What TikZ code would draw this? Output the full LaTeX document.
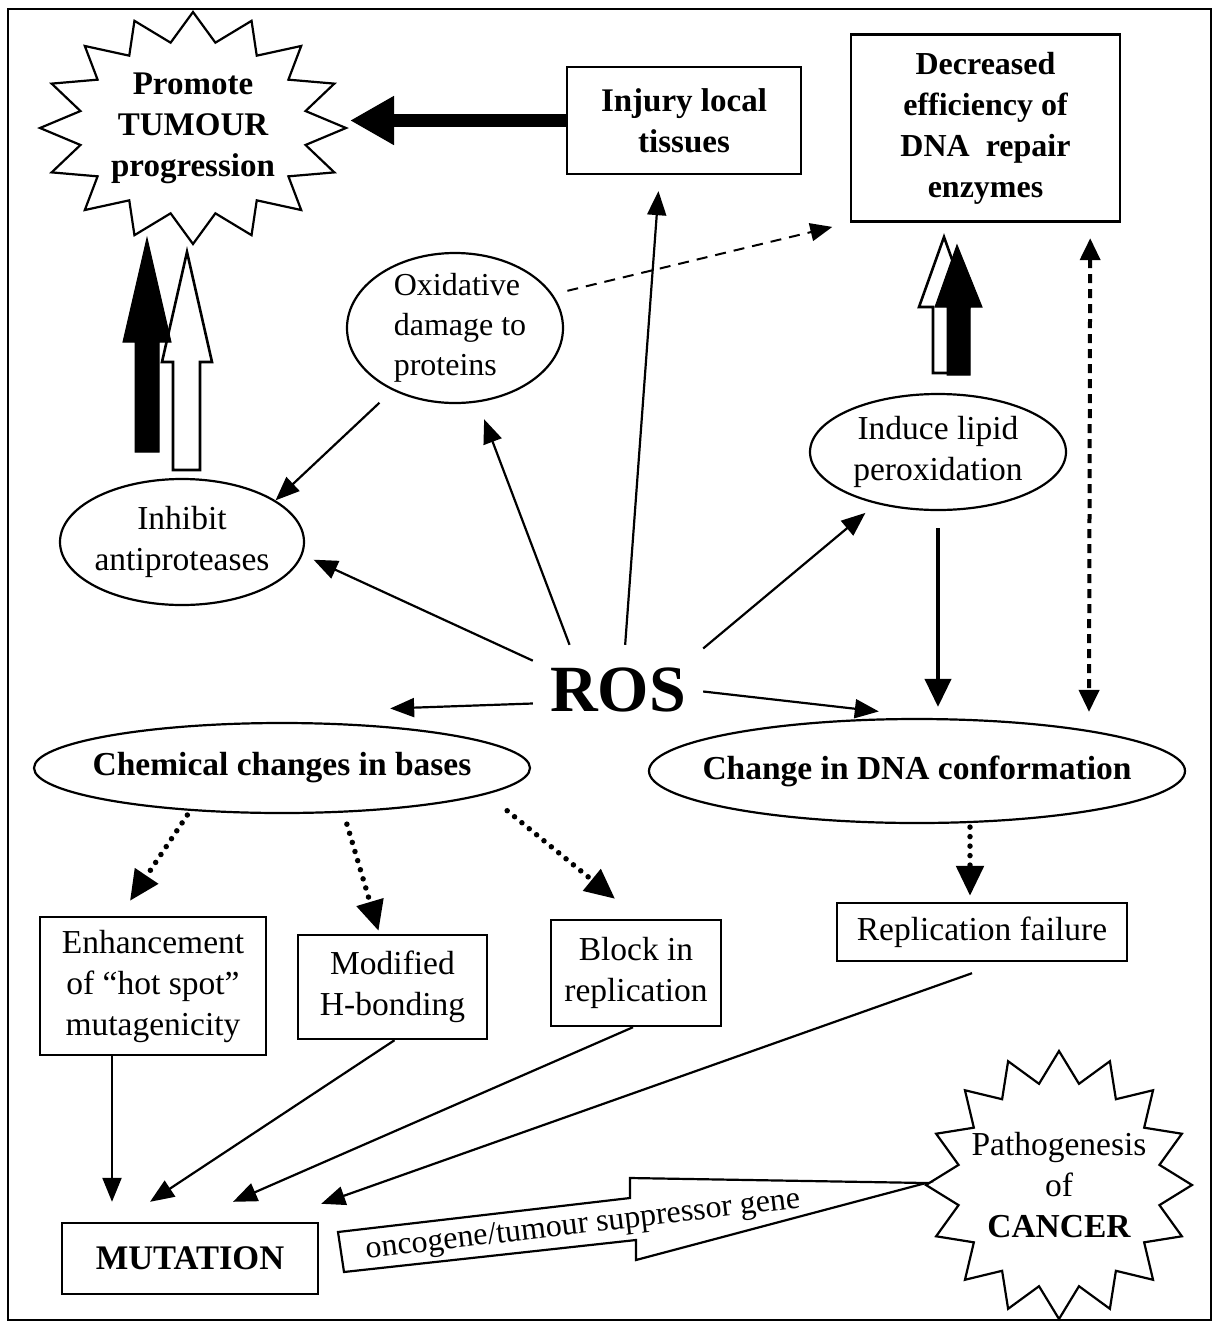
\documentclass[tikz,border=0pt]{standalone}
\usepackage{fontspec}
\setmainfont{Liberation Serif}
\usetikzlibrary{arrows.meta,shapes.geometric,calc}
\begin{document}
\begin{tikzpicture}[x=1pt,y=-1pt,
  every node/.style={inner sep=0pt, align=center},
  bfont/.style={font=\bfseries\fontsize{33}{41}\selectfont},
  nfont/.style={font=\fontsize{33.5}{41}\selectfont},
  box/.style={draw, line width=2.4pt},
  ell/.style={ellipse, draw, line width=2.2pt},
  starline/.style={line width=2.2pt},
  blackblk/.style={fill=black, draw=black, line width=1pt},
  whiteblk/.style={fill=white, draw=black, line width=2.6pt, line join=miter},
  thinarr/.style={line width=2.2pt, -{Triangle[length=24pt,width=19pt]}},
  medarr/.style={line width=4pt, -{Triangle[length=28pt,width=26pt]}},
  bigarr/.style={line width=13pt, -{Triangle[length=44pt,width=46pt]}},
  dasharr/.style={line width=2pt, dash pattern=on 11pt off 8pt, -{Triangle[length=22pt,width=18pt]}},
  dblarr/.style={line width=4pt, dash pattern=on 9pt off 6pt, {Triangle[length=22pt,width=20pt]}-{Triangle[length=22pt,width=20pt]}},
  dotarr/.style={line width=5.5pt, line cap=round, dash pattern=on 0pt off 9.5pt, -{Triangle[length=30pt,width=27pt]}}
]
\useasboundingbox (0,0) rectangle (1219,1331);
\fill[white] (0,0) rectangle (1219,1331);
\draw[line width=1.5pt] (8,9) rectangle (1211,1320);

% ---------- nodes ----------
\node[bfont] (tumour) at (193,128) {Promote\\TUMOUR\\progression};
\node[box,bfont,minimum width=234pt,minimum height=107pt] (injury) at (684,120.5) {Injury local\\tissues};
\node[box,font=\bfseries\fontsize{32}{41}\selectfont,minimum width=269pt,minimum height=187pt] (dec) at (985.5,128) {Decreased\\efficiency of\\DNA\enspace repair\\enzymes};

\node[ell,minimum width=216pt,minimum height=150pt] (oxid) at (455,328) {};
\node[font=\fontsize{32}{40}\selectfont,align=left] (oxidt) at (460,328) {Oxidative\\damage to\\proteins};
\node[ell,minimum width=244pt,minimum height=126pt] (inhib) at (182,542) {};
\node[nfont] (inhibt) at (inhib.center) {Inhibit\\antiproteases};
\node[ell,minimum width=256pt,minimum height=116pt] (lipid) at (938,452) {};
\node[nfont] (lipidt) at (lipid.center) {Induce lipid\\peroxidation};
\node[minimum width=170pt,minimum height=90pt,font=\bfseries\fontsize{66}{70}\selectfont] (ros) at (618,690) {ROS};
\node[ell,minimum width=496pt,minimum height=90pt] (chem) at (282,768) {};
\node[font=\bfseries\fontsize{33.5}{41}\selectfont] (chemt) at (chem.center) {Chemical changes in bases};
\node[ell,minimum width=536pt,minimum height=104pt] (dna) at (917,771) {};
\node[font=\bfseries\fontsize{33.5}{41}\selectfont] (dnat) at (dna.center) {Change in DNA conformation};

\node[box,nfont,minimum width=226pt,minimum height=138pt] (enh) at (153,986) {Enhancement\\of “hot spot”\\mutagenicity};
\node[box,nfont,minimum width=189pt,minimum height=104pt] (mod) at (392.5,987) {Modified\\H-bonding};
\node[box,nfont,minimum width=170pt,minimum height=106pt] (block) at (636,973) {Block in\\replication};
\node[box,nfont,minimum width=290pt,minimum height=58pt] (rep) at (982,932) {Replication failure};
\node[box,font=\bfseries\fontsize{34.5}{41}\selectfont,minimum width=256pt,minimum height=71pt] (mut) at (190,1258.5) {MUTATION};
\node[nfont] (canc) at (1059,1185) {Pathogenesis\\of\\{\bfseries CANCER}};

% ---------- starbursts ----------
\draw[starline] ($(tumour.center)+(90:153 and 116)$)
  \foreach \i [evaluate=\i as \rr using {mod(\i,2)==0 ? 1 : 0.75}] in {1,...,31}
  { -- ($(tumour.center)+({90+\i*11.25}:{153*\rr} and {116*\rr})$) } -- cycle;
\draw[starline] ($(canc.center)+(90:133 and 134)$)
  \foreach \i [evaluate=\i as \rr using {mod(\i,2)==0 ? 1 : 0.77}] in {1,...,31}
  { -- ($(canc.center)+({90+\i*11.25}:{133*\rr} and {134*\rr})$) } -- cycle;

% ---------- block arrows ----------
\draw[whiteblk] (173,470) -- (173,362) -- (162,362) -- (187,252) -- (212,362) -- (200,362) -- (200,470) -- cycle;
\draw[blackblk] (135,452) -- (135,342) -- (123,342) -- (147,238) -- (171,342) -- (159,342) -- (159,452) -- cycle;
\draw[whiteblk] (933,373) -- (933,307) -- (919,307) -- (944,237) -- (969,307) -- (958,307) -- (958,373) -- cycle;
\draw[blackblk] (947,375) -- (947,307) -- (935,307) -- (957,245) -- (982,307) -- (970,307) -- (970,375) -- cycle;

% ---------- lightning arrow ----------
\draw[line width=2.2pt, fill=white, line join=miter] (926,1183) -- (630,1178) -- (630,1198) -- (338,1232) -- (344,1272) -- (636,1240) -- (636,1260) -- cycle;
\node[font=\fontsize{32}{36}\selectfont, rotate=6.7] (onco) at (583,1226) {oncogene/tumour suppressor gene};

% ---------- connectors ----------
\draw[bigarr] (injury.west) -- ([xshift=157pt,yshift=7.5pt]tumour.center);

\draw[thinarr, shorten >=12pt] (ros.161) -- (inhib.-6);
\draw[thinarr, shorten >=18pt] (ros.137) -- (oxid.-73);
\draw[thinarr, shorten >=16pt] (ros.81) -- (injury.-114);
\draw[thinarr, shorten >=14pt] (ros.26) -- (lipid.220);
\draw[thinarr] (ros.189) -- ([yshift=18pt]chem.21);
\draw[thinarr] (ros.-1.5) -- ([yshift=7pt]dna.126);

\draw[thinarr, shorten <=18pt] (oxid.225) -- (inhib.24);
\draw[dasharr, shorten <=15pt, shorten >=18pt] (oxid.19) -- (dec.south west);
\draw[medarr, shorten <=17pt, shorten >=11pt] (lipid.south) -- (lipid.south |- dna.north);
\draw[dblarr] ([xshift=-31pt,yshift=-15.5pt]dec.south east) -- ([xshift=172pt,yshift=6pt]dna.north);

\draw[dotarr, shorten <=5pt] (chem.205) -- ([xshift=-23pt,yshift=15pt]enh.north);
\draw[dotarr, shorten <=12pt] (chem.-36) -- ([xshift=-14pt,yshift=3pt]mod.north);
\draw[dotarr] ([yshift=-23pt]chem.-5) -- ([xshift=-21pt,yshift=20pt]block.north);
\draw[dotarr] ([xshift=53pt,yshift=-3pt]dna.south) -- ([xshift=-12pt,yshift=6pt]rep.north);

\draw[thinarr] ([xshift=-41pt]enh.south) -- ([xshift=-78pt,yshift=20pt]mut.north);
\draw[thinarr] ([xshift=2pt]mod.south) -- ([xshift=-40pt,yshift=20pt]mut.north);
\draw[thinarr] ([xshift=-3pt]block.south) -- ([xshift=43pt,yshift=20pt]mut.north);
\draw[thinarr] ([xshift=-10pt,yshift=-11pt]rep.south) -- ([xshift=2pt,yshift=18pt]mut.north east);
\end{tikzpicture}
\end{document}
